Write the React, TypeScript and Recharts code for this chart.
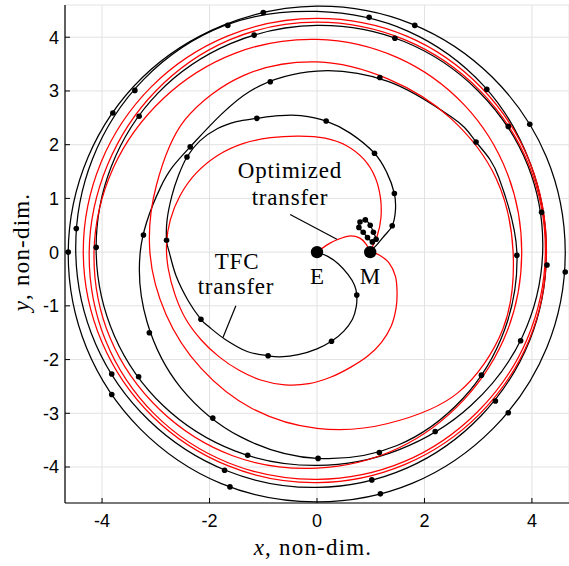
import React from 'react';
import { ComposedChart, Line, Scatter, XAxis, YAxis, CartesianGrid, ReferenceLine } from 'recharts';

type P = [number, number];

const xTicks = [-4, -2, 0, 2, 4];
const yTicks = [-4, -3, -2, -1, 0, 1, 2, 3, 4];

// TFC transfer (black): from E, one loop, into M
const tfcInner: P[] = [
  [0, 0], [0.2, -0.08], [0.4, -0.22], [0.58, -0.42], [0.7, -0.62], [0.74, -0.8], [0.73, -1.02],
  [0.66, -1.25], [0.5, -1.47], [0.27, -1.66], [0.0, -1.8], [-0.35, -1.91], [-0.69, -1.95],
  [-0.91, -1.93], [-1.3, -1.85], [-1.7, -1.63], [-2.0, -1.4], [-2.16, -1.25], [-2.4, -0.9],
  [-2.62, -0.45], [-2.75, 0.0], [-2.8, 0.22], [-2.79, 0.6], [-2.7, 1.05], [-2.58, 1.42],
  [-2.42, 1.77], [-2.18, 2.07], [-1.85, 2.3], [-1.5, 2.43], [-1.12, 2.49], [-0.7, 2.54],
  [-0.3, 2.54], [0.17, 2.44], [0.61, 2.22], [1.07, 1.84], [1.3, 1.48], [1.44, 1.09],
  [1.46, 0.78], [1.4, 0.49], [1.25, 0.3], [1.1, 0.12], [0.99, 0.02],
];

const tfcRingB: P[] = [
  [3.72, 0], [3.38, 1.4], [2.96, 2.05], [2.51, 2.51], [1.32, 3.18], [0, 3.37], [-1.24, 3.0],
  [-2.36, 1.96], [-2.91, 1.21], [-3.29, 0], [-3.16, -1.31], [-2.53, -2.53], [-1.42, -3.44],
  [0, -3.84], [1.49, -3.6], [2.72, -2.72], [3.49, -1.45], [3.72, 0],
];

const tfcRingC: P[] = [
  [4.2, 0], [3.92, 1.62], [3.0, 3.0], [1.62, 3.92], [0, 4.22], [-1.61, 3.88], [-2.96, 2.96],
  [-3.83, 1.59], [-4.11, 0], [-3.77, -1.56], [-2.86, -2.86], [-1.53, -3.7], [0, -3.97],
  [1.52, -3.68], [2.86, -2.86], [3.82, -1.58], [4.2, 0],
];

const tfcRingD: P[] = [
  [4.27, 0], [3.97, 1.65], [3.1, 3.1], [1.7, 4.11], [0, 4.48], [-1.74, 4.21], [-3.22, 3.22],
  [-4.18, 1.73], [-4.49, 0], [-4.12, -1.71], [-3.13, -3.13], [-1.68, -4.07], [0, -4.38],
  [1.67, -4.02], [3.05, -3.05], [3.96, -1.64], [4.27, 0],
];

const tfcRingE: P[] = [
  [4.62, 0], [4.27, 1.77], [3.26, 3.26], [1.76, 4.25], [0, 4.58], [-1.75, 4.22], [-3.25, 3.25],
  [-4.26, 1.77], [-4.63, 0], [-4.29, -1.78], [-3.29, -3.29], [-1.78, -4.31], [0, -4.65],
  [1.78, -4.3], [3.28, -3.28], [4.28, -1.77], [4.62, 0],
];

const tfcLoop: P[] = [
  [0.8, 0.56], [0.9, 0.6], [0.99, 0.5], [1.05, 0.37], [1.1, 0.24], [1.03, 0.19], [0.94, 0.27],
  [0.86, 0.37], [0.78, 0.46], [0.8, 0.56],
];

// Optimized transfer (red): E to M, then one loop back into M
const optInner: P[] = [
  [0, 0], [0.18, 0.13], [0.37, 0.23], [0.6, 0.3], [0.8, 0.26], [0.92, 0.14], [0.99, 0.02],
  [1.15, -0.05], [1.34, -0.2], [1.46, -0.45], [1.49, -0.75], [1.47, -1.05], [1.38, -1.38],
  [1.2, -1.68], [0.95, -1.93], [0.63, -2.14], [0.25, -2.33], [-0.15, -2.45], [-0.6, -2.47],
  [-1.05, -2.38], [-1.45, -2.2], [-1.82, -1.95], [-2.15, -1.64], [-2.44, -1.25], [-2.64, -0.8],
  [-2.77, -0.3], [-2.8, 0.15], [-2.73, 0.6], [-2.55, 1.05], [-2.25, 1.47], [-1.85, 1.8],
  [-1.38, 2.02], [-0.86, 2.13], [-0.33, 2.16], [0.15, 2.12], [0.55, 1.98], [0.87, 1.73],
  [1.08, 1.4], [1.18, 1.02], [1.19, 0.64], [1.12, 0.3], [0.99, 0.02],
];

const optRing2: P[] = [
  [3.65, 0], [3.33, 1.38], [2.49, 2.49], [1.33, 3.22], [0, 3.54], [-1.36, 3.29], [-2.46, 2.46],
  [-2.99, 1.24], [-3.11, 0], [-2.81, -1.16], [-2.16, -2.16], [-1.21, -2.91], [0, -3.28],
  [1.32, -3.19], [2.62, -2.62], [3.46, -1.43], [3.65, 0],
];

const optRing3: P[] = [
  [3.81, 0], [3.54, 1.47], [2.74, 2.74], [1.5, 3.62], [0, 3.96], [-1.53, 3.7], [-2.86, 2.86],
  [-3.79, 1.57], [-4.15, 0], [-3.85, -1.6], [-2.93, -2.93], [-1.57, -3.79], [0, -4.02],
  [1.51, -3.65], [2.74, -2.74], [3.54, -1.47], [3.81, 0],
];

const optRing4: P[] = [
  [4.25, 0], [3.94, 1.63], [3.02, 3.02], [1.64, 3.95], [0, 4.28], [-1.63, 3.95], [-3.0, 3.0],
  [-3.9, 1.62], [-4.24, 0], [-3.94, -1.63], [-3.02, -3.02], [-1.63, -3.93], [0, -4.23],
  [1.62, -3.9], [2.98, -2.98], [3.91, -1.62], [4.25, 0],
];

const optRing5: P[] = [
  [4.27, 0], [3.97, 1.65], [3.06, 3.06], [1.67, 4.02], [0, 4.35], [-1.67, 4.02], [-3.08, 3.08],
  [-4.02, 1.67], [-4.35, 0], [-4.01, -1.66], [-3.06, -3.06], [-1.65, -3.98], [0, -4.29],
  [1.64, -3.95], [3.02, -3.02], [3.95, -1.63], [4.27, 0],
];

// node markers on the TFC transfer
const tfcNodes: P[] = [
  [0.74, -0.8], [0.27, -1.66], [-0.91, -1.93], [-2.16, -1.25], [-2.8, 0.22], [-2.42, 1.77],
  [-1.12, 2.49], [0.17, 2.44], [1.07, 1.84], [1.44, 1.09], [1.4, 0.49],
  [-2.36, 1.96], [-0.87, 3.17], [1.17, 3.25], [2.96, 2.05], [3.72, -0.06], [3.06, -2.29],
  [2.2, -3.34], [1.16, -3.73], [0.02, -3.84], [-1.94, -3.09], [-3.12, -1.5], [-3.23, 0.32],
  [-4.11, 0.09], [-3.31, 2.53], [-1.17, 4.04], [1.45, 3.98], [3.56, 2.34], [3.79, -1.65],
  [-1.29, -3.78], [-3.32, -2.32],
  [0.97, 4.37], [3.16, 3.03], [4.18, 0.74], [4.28, -0.24], [3.32, -2.77], [1.02, -4.24],
  [-1.72, -4.06], [-3.82, -2.27], [-4.48, 0.44], [-3.39, 3.01], [-1.66, 4.22],
  [1.82, 4.22], [3.96, 2.38], [4.62, -0.37], [3.56, -2.99], [1.18, -4.5], [-1.62, -4.37],
  [-3.82, -2.65], [-4.63, 0], [-3.8, 2.59], [-1.0, 4.46],
  [0.8, 0.56], [0.9, 0.6], [0.99, 0.5], [1.05, 0.37], [1.1, 0.24], [1.03, 0.19], [0.94, 0.27],
  [0.86, 0.37], [0.78, 0.46],
];

const bodies: P[] = [[0, 0], [0.99, 0]];

const pts = (a: P[]) => a.map(([x, y]) => ({ x, y }));

const W = 569;
const H = 566;
const serif = '"Liberation Serif", "Times New Roman", serif';
const sans = '"Liberation Sans", Arial, sans-serif';

const blackPaths = [tfcRingE, tfcRingD, tfcRingC, tfcRingB, tfcInner, tfcLoop];
const redPaths = [optRing5, optRing4, optRing3, optRing2, optInner];

// Catmull-Rom through the points; wraps round when the path is closed
function smooth(context: any) {
  let p: number[][] = [];
  return {
    areaStart() {},
    areaEnd() {},
    lineStart() {
      p = [];
    },
    point(x: number, y: number) {
      p.push([x, y]);
    },
    lineEnd() {
      const n = p.length;
      if (!n) return;
      const closed = n > 3 && Math.abs(p[0][0] - p[n - 1][0]) < 0.01 && Math.abs(p[0][1] - p[n - 1][1]) < 0.01;
      const m = n - 1;
      const at = (i: number) => (closed ? p[((i % m) + m) % m] : p[Math.max(0, Math.min(n - 1, i))]);
      context.moveTo(p[0][0], p[0][1]);
      for (let i = 0; i < n - 1; i++) {
        const a = at(i - 1);
        const b = p[i];
        const c = p[i + 1];
        const d = at(i + 2);
        context.bezierCurveTo(
          b[0] + (c[0] - a[0]) / 6,
          b[1] + (c[1] - a[1]) / 6,
          c[0] - (d[0] - b[0]) / 6,
          c[1] - (d[1] - b[1]) / 6,
          c[0],
          c[1]
        );
      }
    },
  };
}

function YTick(props: any) {
  const { x, y, payload } = props;
  return (
    <g>
      <line x1={x} x2={x + 5} y1={y} y2={y} stroke="#000" strokeWidth={1} />
      <text x={x - 6} y={y} dy="0.36em" textAnchor="end" fontFamily={sans} fontSize={18} fill="#000">
        {payload.value}
      </text>
    </g>
  );
}

function XTick(props: any) {
  const { x, y, payload } = props;
  return (
    <g>
      <line x1={x} x2={x} y1={y} y2={y - 5} stroke="#000" strokeWidth={1} />
      <text x={x} y={y + 24} textAnchor="middle" fontFamily={sans} fontSize={18} fill="#000">
        {payload.value}
      </text>
    </g>
  );
}

const Node = (p: any) => <circle cx={p.cx} cy={p.cy} r={2.8} fill="#000" />;
const Body = (p: any) => <circle cx={p.cx} cy={p.cy} r={6.2} fill="#000" />;

export default function App() {
  return (
    <div style={{ position: 'absolute', left: 0, top: 0, width: W, height: H, background: '#fff' }}>
      <ComposedChart width={W} height={H} margin={{ top: 5, right: 0, bottom: 0, left: 0 }}>
        <CartesianGrid stroke="#e2e2e2" strokeWidth={1} />
        <XAxis
          type="number"
          dataKey="x"
          domain={[-4.69, 4.69]}
          ticks={xTicks}
          interval={0}
          allowDataOverflow
          height={63}
          tickSize={0}
          tickMargin={0}
          tickLine={false}
          tick={<XTick />}
          axisLine={{ stroke: '#000', strokeWidth: 1.2 }}
        />
        <YAxis
          type="number"
          dataKey="y"
          domain={[-4.67, 4.6]}
          ticks={yTicks}
          interval={0}
          allowDataOverflow
          width={65}
          tickSize={0}
          tickMargin={0}
          tickLine={false}
          tick={<YTick />}
          axisLine={{ stroke: '#000', strokeWidth: 1.2 }}
        />
        {blackPaths.map((p, i) => (
          <Line
            key={`b${i}`}
            data={pts(p)}
            dataKey="y"
            type={smooth as any}
            stroke="#000"
            strokeWidth={1.25}
            dot={false}
            activeDot={false}
            isAnimationActive={false}
          />
        ))}
        {redPaths.map((p, i) => (
          <Line
            key={`r${i}`}
            data={pts(p)}
            dataKey="y"
            type={smooth as any}
            stroke="#ff0000"
            strokeWidth={1.25}
            dot={false}
            activeDot={false}
            isAnimationActive={false}
          />
        ))}
        <ReferenceLine segment={[{ x: -0.5, y: 0.7 }, { x: 0.37, y: 0.24 }]} stroke="#000" strokeWidth={1.2} />
        <ReferenceLine segment={[{ x: -1.51, y: -1.0 }, { x: -1.75, y: -1.59 }]} stroke="#000" strokeWidth={1.2} />
        <Scatter data={pts(tfcNodes)} dataKey="y" shape={Node} isAnimationActive={false} />
        <Scatter data={pts(bodies)} dataKey="y" shape={Body} isAnimationActive={false} />
      </ComposedChart>
      <svg width={W} height={H} style={{ position: 'absolute', left: 0, top: 0, pointerEvents: 'none' }}>
        <g fontFamily={serif} fontSize={23} fill="#000" letterSpacing={0.8} textAnchor="middle">
          <text x={290} y={178}>Optimized</text>
          <text x={290} y={205}>transfer</text>
          <text x={237} y={269}>TFC</text>
          <text x={236} y={294}>transfer</text>
          <text x={317} y={284} letterSpacing={0}>E</text>
          <text x={370} y={284} letterSpacing={0}>M</text>
        </g>
        <text x={313} y={555} textAnchor="middle" fontFamily={serif} fontSize={23} letterSpacing={1.2}>
          <tspan fontStyle="italic">x</tspan>, non-dim.
        </text>
        <text
          x={0}
          y={0}
          transform="translate(29,252) rotate(-90)"
          textAnchor="middle"
          fontFamily={serif}
          fontSize={23}
          letterSpacing={1.2}
        >
          <tspan fontStyle="italic">y</tspan>, non-dim.
        </text>
      </svg>
    </div>
  );
}
